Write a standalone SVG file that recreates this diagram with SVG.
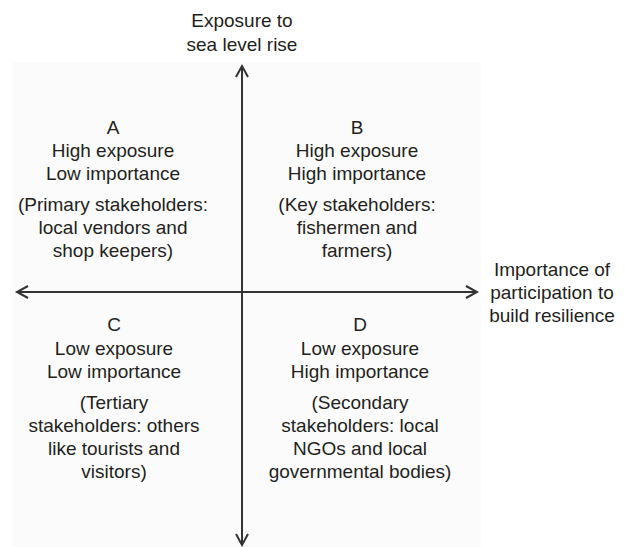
<svg xmlns="http://www.w3.org/2000/svg" width="625" height="547" viewBox="0 0 625 547">
<style>
text{font-family:"Liberation Sans",Arial,sans-serif;font-size:19px;fill:#231f20;text-anchor:middle}
.ax{stroke:#333;stroke-width:2;fill:none}
.hd{stroke:#333;stroke-width:2;fill:none;stroke-linejoin:miter}
</style>
<rect x="0" y="0" width="625" height="547" fill="#fff"/>
<rect x="13" y="62" width="468" height="485" fill="#fbfbfb"/>
<g id="connectors">
<line class="ax" x1="242" y1="67" x2="242" y2="545"/>
<polyline class="hd" points="236,77 242,66 248,77"/>
<polyline class="hd" points="236,534 242,545 248,534"/>
<line class="ax" x1="17" y1="292" x2="477" y2="292"/>
<polyline class="hd" points="28,286 17,292 28,298"/>
<polyline class="hd" points="466,286 477,292 466,298"/>
</g>
<g id="axis-y-label">
<text x="242" y="27">Exposure to</text>
<text x="242" y="51">sea level rise</text>
</g>
<g id="axis-x-label">
<text x="552" y="276">Importance of</text>
<text x="552" y="299">participation to</text>
<text x="552" y="322">build resilience</text>
</g>
<g id="quadrant-a">
<text x="113" y="134">A</text>
<text x="113" y="157">High exposure</text>
<text x="113" y="180">Low importance</text>
<text x="113" y="211">(Primary stakeholders:</text>
<text x="113" y="234">local vendors and</text>
<text x="113" y="257">shop keepers)</text>
</g>
<g id="quadrant-b">
<text x="357" y="134">B</text>
<text x="357" y="157">High exposure</text>
<text x="357" y="180">High importance</text>
<text x="357" y="211">(Key stakeholders:</text>
<text x="357" y="234">fishermen and</text>
<text x="357" y="257">farmers)</text>
</g>
<g id="quadrant-c">
<text x="114" y="331">C</text>
<text x="114" y="355">Low exposure</text>
<text x="114" y="378">Low importance</text>
<text x="114" y="409">(Tertiary</text>
<text x="114" y="432">stakeholders: others</text>
<text x="114" y="455">like tourists and</text>
<text x="114" y="478">visitors)</text>
</g>
<g id="quadrant-d">
<text x="360" y="331">D</text>
<text x="360" y="355">Low exposure</text>
<text x="360" y="378">High importance</text>
<text x="360" y="409">(Secondary</text>
<text x="360" y="432">stakeholders: local</text>
<text x="360" y="455">NGOs and local</text>
<text x="360" y="478">governmental bodies)</text>
</g>
</svg>
